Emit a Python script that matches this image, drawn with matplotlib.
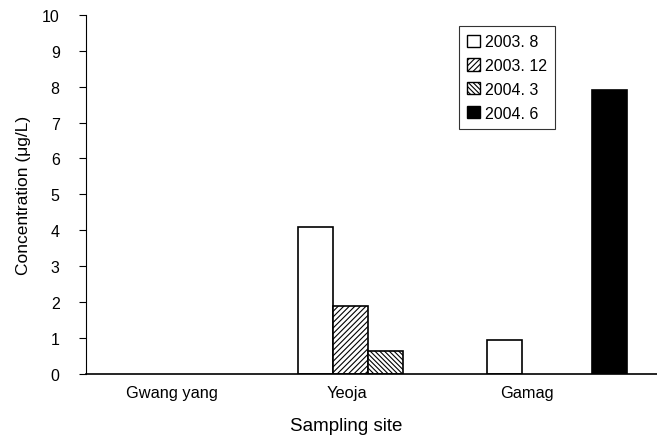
import numpy as np
import matplotlib.pyplot as plt
from matplotlib.patches import Patch

plt.rcParams['font.family'] = ['Liberation Sans', 'DejaVu Sans']
plt.rcParams['hatch.linewidth'] = 0.8

sites = ['Gwang yang', 'Yeoja', 'Gamag']
periods = ['2003. 8', '2003. 12', '2004. 3', '2004. 6']
# concentration (ug/L) per period, one value per site
c_2003_8 = [0.0, 4.1, 0.95]
c_2003_12 = [0.0, 1.9, 0.0]
c_2004_3 = [0.0, 0.65, 0.0]
c_2004_6 = [0.0, 0.0, 7.9]

series = [c_2003_8, c_2003_12, c_2004_3, c_2004_6]
faces = ['white', 'white', 'white', 'black']
hatches = ['', '//////', '\\\\\\\\\\\\\\', '']
label_shift = [-0.04, -0.11, -0.16]  # tick labels sit a bit left of the groups

fig = plt.figure(figsize=(6.57, 4.39), dpi=100)
ax = fig.add_axes([0.131, 0.146, 0.869, 0.818])

x = np.arange(len(sites))
w = 0.185
for i, vals in enumerate(series):
    bars = ax.bar(x + (i - 1.5) * w, vals, width=w, color=faces[i], edgecolor='black',
                  hatch=hatches[i], linewidth=1.2)
    for b, v in zip(bars, vals):
        if v == 0:
            b.set_visible(False)

ax.set_xlim(-0.492, 2.53)
ax.set_ylim(0, 10)
ax.set_yticks(range(0, 11))
ax.set_xticks(x + np.array(label_shift))
ax.set_xticklabels(sites)
ax.tick_params(axis='x', length=0, labelsize=11.8, pad=8)
ax.tick_params(axis='y', direction='out', length=5, labelsize=11.5, pad=14)
for s in ['top', 'right']:
    ax.spines[s].set_visible(False)
ax.spines['left'].set_linewidth(0.8)
ax.spines['bottom'].set_linewidth(1.2)

ax.set_ylabel('Concentration (μg/L)', fontsize=12.5, labelpad=8)
ax.set_xlabel('Sampling site', fontsize=13.5)
ax.xaxis.set_label_coords(0.455, -0.12)

handles = [Patch(facecolor=faces[i], edgecolor='black', hatch=hatches[i], linewidth=1.0)
           for i in range(len(periods))]
leg = ax.legend(handles, periods, loc='upper left', bbox_to_anchor=(0.64, 0.99), fontsize=11.5,
                frameon=True, fancybox=False, edgecolor='black',
                handlelength=0.8, handleheight=0.8, handletextpad=0.3,
                labelspacing=0.55, borderpad=0.5)
leg.get_frame().set_linewidth(0.8)

fig.savefig('out.png', dpi=100)
